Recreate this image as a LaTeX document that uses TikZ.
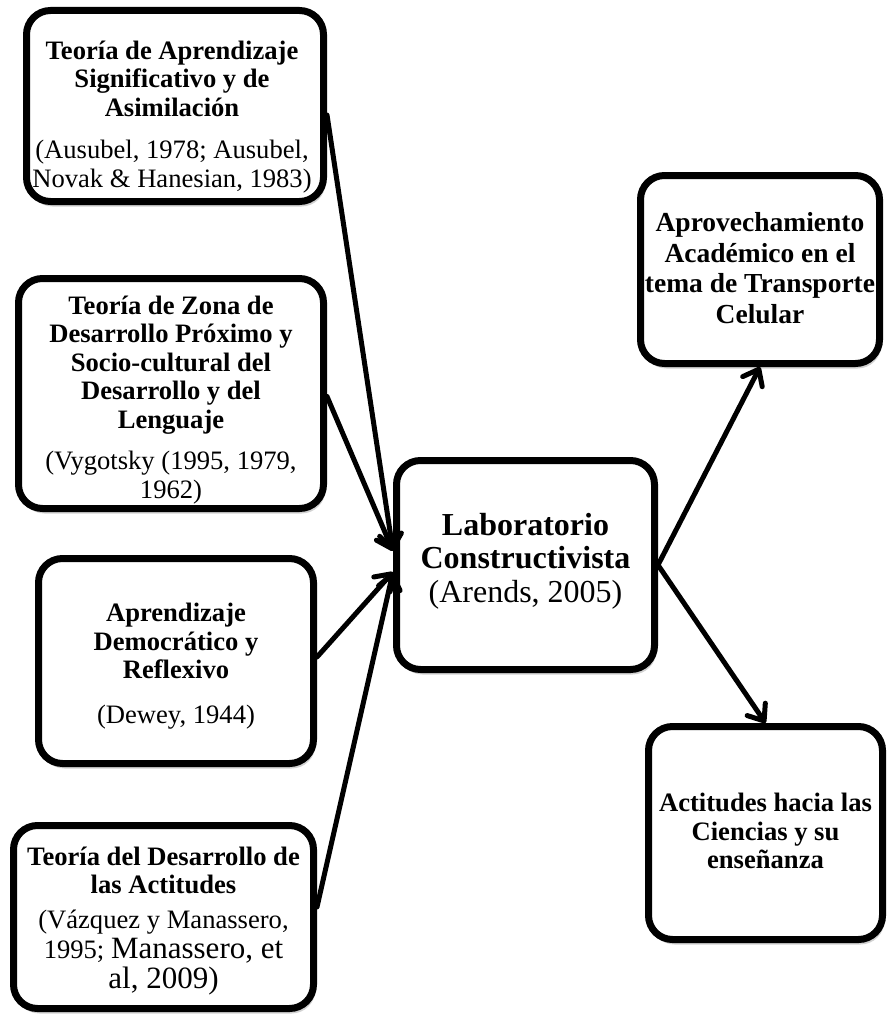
\documentclass[tikz,border=0pt]{standalone}
\usepackage{fontspec}
\setmainfont{Liberation Serif}
\usetikzlibrary{arrows.meta,shadows}
\begin{document}
\begin{tikzpicture}[x=1pt,y=-1pt,
  box/.style={draw=black, line width=7pt, rounded corners=24pt, fill=white,
    inner sep=0pt,
    drop shadow={shadow xshift=2pt, shadow yshift=-5pt, opacity=0.18, fill=black}},
  txt/.style={align=center, inner sep=0pt, font=\fontsize{26.6}{28.5}\selectfont},
  big/.style={align=center, inner sep=0pt, font=\fontsize{32}{33.5}\selectfont},
  arr/.style={line width=5pt, line cap=round,
    -{Straight Barb[length=14pt,width=22pt,line cap=round,line join=round]}}
]
\useasboundingbox (0,0) rectangle (889,1014);

% boxes
\node[box, minimum width=297pt, minimum height=191pt] (b1) at (175,106) {};
\node[box, minimum width=305pt, minimum height=230pt] (b2) at (171,393.5) {};
\node[box, minimum width=275pt, minimum height=205pt] (b3) at (176,661) {};
\node[box, minimum width=300pt, minimum height=183pt] (b4) at (163.5,917) {};
\node[box, minimum width=258pt, minimum height=209pt] (c) at (525.5,565) {};
\node[box, minimum width=239pt, minimum height=188pt] (tr) at (760,269.5) {};
\node[box, minimum width=234pt, minimum height=213pt] (br) at (765.5,833) {};

% texts
\node[txt] (t1) at (172,117)
  {\textbf{Teoría de Aprendizaje}\\\textbf{Significativo y de}\\\textbf{Asimilación}\\[14pt]
   (Ausubel, 1978; Ausubel,\\Novak \& Hanesian, 1983)};

\node[txt] (t2) at (171,400)
  {\textbf{Teoría de Zona de}\\\textbf{Desarrollo Próximo y}\\\textbf{Socio-cultural del}\\\textbf{Desarrollo y del}\\\textbf{Lenguaje}\\[13pt]
   (Vygotsky (1995, 1979,\\1962)};

\node[txt] (t3) at (176,666)
  {\textbf{Aprendizaje}\\\textbf{Democrático y}\\\textbf{Reflexivo}\\[16pt]
   (Dewey, 1944)};

\node[txt] (t4) at (163.5,921)
  {\textbf{Teoría del Desarrollo de}\\\textbf{las Actitudes}\\[6pt]
   (Vázquez y Manassero,\\[2pt]1995; {\fontsize{31}{34}\selectfont Manassero, et}\\[1pt]{\fontsize{31}{34}\selectfont al, 2009)}};

\node[big] (tc) at (525.5,561)
  {\textbf{Laboratorio}\\\textbf{Constructivista}\\(Arends, 2005)};

\node[txt, font=\fontsize{27.5}{30.5}\selectfont] (ttr) at (760,268)
  {\textbf{Aprovechamiento}\\\textbf{Académico en el}\\\textbf{tema de Transporte}\\\textbf{Celular}};

\node[txt] (tbr) at (765.5,831)
  {\textbf{Actitudes hacia las}\\\textbf{Ciencias y su}\\\textbf{enseñanza}};

% connectors
\draw[arr] ([yshift=-9pt]b1.east) -- ([yshift=14pt]c.west);
\draw[arr] ([yshift=-3pt]b2.east) -- ([yshift=14pt]c.west);
\draw[arr] ([yshift=4pt]b3.east) -- ([yshift=-7pt]c.west);
\draw[arr] ([yshift=10pt]b4.east) -- ([yshift=-7pt]c.west);
\draw[arr] (c.east) -- (tr.south);
\draw[arr] (c.east) -- (br.north);
\end{tikzpicture}
\end{document}
